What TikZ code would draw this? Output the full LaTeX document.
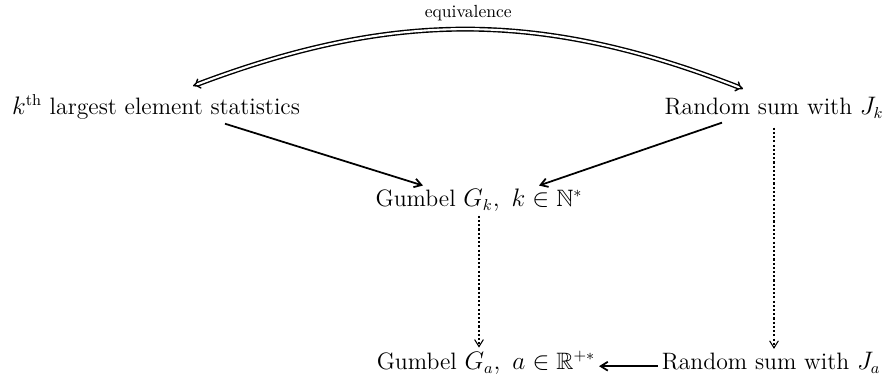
\documentclass[tikz,border=0pt]{standalone}
\usepackage{amsmath}
\usepackage{amssymb}
\usetikzlibrary{arrows.meta}

\begin{document}
\begin{tikzpicture}[>={Straight Barb[length=4pt,width=5pt]},
  lbl/.style={font=\fontsize{13.5}{16}\selectfont,anchor=base,inner sep=2pt},
  solid arr/.style={->,line width=1pt},
  dot arr/.style={->,line width=0.6pt,dash pattern=on 1.2pt off 1.2pt}]
  \useasboundingbox (0,0) rectangle (17.74,7.8);
  % the five statements
  \node[lbl] (kth) at (3.12,5.5) {$k^{\mathrm{th}}$ largest element statistics};
  \node[lbl] (rsk) at (15.48,5.5) {Random sum with $J_k$};
  \node[lbl] (gk) at (9.58,3.66) {Gumbel $G_k,\ k\in\mathbb{N}^*$};
  \node[lbl] (ga) at (9.72,0.4) {Gumbel $G_a,\ a\in\mathbb{R}^{+*}$};
  \node[lbl] (rsa) at (15.42,0.4) {Random sum with $J_a$};
  % equivalence arc
  \draw[double,double distance=1.2pt,line width=0.8pt,{Implies}-{Implies}]
    ([xshift=7.4mm,yshift=1mm]kth.north) to[bend left=21]
    node[above=1pt,font=\fontsize{10}{12}\selectfont] (eqv) {equivalence}
    ([xshift=-6.2mm,yshift=1mm]rsk.north);
  % limits
  \draw[solid arr] ([xshift=13.8mm]kth.south) -- ([xshift=-11.2mm]gk.north);
  \draw[solid arr] ([xshift=-10.4mm]rsk.south) -- ([xshift=12mm]gk.north);
  \draw[dot arr] (gk.south) -- (gk.south |- ga.north);
  \draw[dot arr] ([yshift=-1mm]rsk.south) -- (rsk.south |- rsa.north);
  \draw[solid arr] (rsa.mid west) -- (ga.mid east);
\end{tikzpicture}
\end{document}
